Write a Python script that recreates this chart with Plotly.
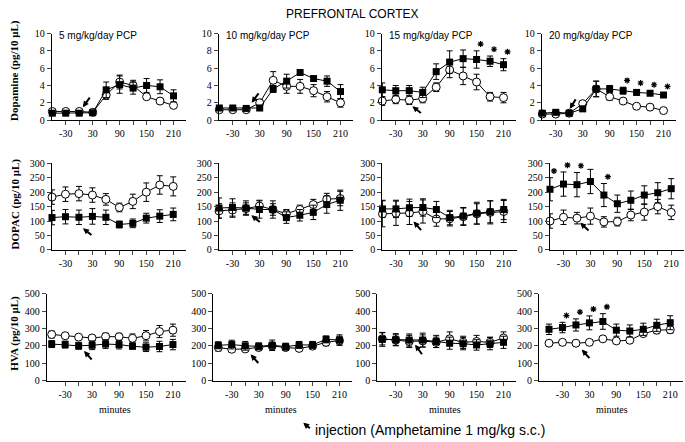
import plotly.graph_objects as go
from plotly.subplots import make_subplots

minutes = [-60, -30, 0, 30, 60, 90, 120, 150, 180, 210]
doses = ["5 mg/kg/day PCP", "10 mg/kg/day PCP", "15 mg/kg/day PCP", "20 mg/kg/day PCP"]

# Dopamine (pg/10 uL): filled squares = PCP, open circles = control ; one row per dose
da_sq = [[0.8, 0.8, 0.8, 0.85, 3.5, 4.1, 3.7, 4.0, 3.85, 2.8],
         [1.4, 1.4, 1.35, 1.4, 3.6, 4.5, 5.5, 4.8, 4.5, 3.3],
         [3.5, 3.4, 3.4, 3.2, 5.6, 6.7, 7.1, 7.0, 6.8, 6.4],
         [0.8, 0.9, 0.8, 1.3, 3.6, 3.6, 3.4, 3.2, 3.1, 2.9]]
da_sq_err = [[0.2, 0.2, 0.2, 0.2, 0.9, 1.0, 0.7, 0.8, 0.8, 0.7],
             [0.2, 0.2, 0.2, 0.3, 0.4, 0.8, 0.2, 0.2, 0.6, 0.8],
             [0.8, 0.6, 0.6, 0.6, 0.9, 1.3, 1.0, 1.0, 0.6, 0.7],
             [0.2, 0.2, 0.2, 0.3, 0.9, 0.4, 0.4, 0.3, 0.2, 0.2]]
da_ci = [[1.0, 1.0, 1.0, 0.9, 2.9, 4.4, 4.0, 2.7, 2.2, 1.7],
         [1.2, 1.2, 1.2, 2.0, 4.6, 3.9, 3.9, 3.4, 2.7, 2.0],
         [2.2, 2.4, 2.3, 2.5, 3.8, 5.8, 5.1, 4.4, 2.7, 2.6],
         [0.7, 0.7, 0.8, 1.9, 3.6, 2.7, 2.2, 1.6, 1.5, 1.1]]
da_ci_err = [[0.2, 0.2, 0.2, 0.2, 0.5, 0.8, 0.6, 0.3, 0.3, 0.2],
             [0.2, 0.2, 0.2, 0.4, 1.0, 0.8, 0.8, 0.7, 0.6, 0.5],
             [0.5, 0.5, 0.5, 0.5, 0.5, 0.9, 1.0, 0.9, 0.5, 0.6],
             [0.2, 0.2, 0.2, 0.3, 0.9, 0.4, 0.2, 0.2, 0.2, 0.2]]

# DOPAC (pg/10 uL)
dopac_sq = [[112, 115, 113, 116, 113, 88, 92, 110, 117, 123],
            [145, 147, 145, 140, 140, 112, 120, 130, 157, 172],
            [142, 142, 146, 147, 140, 112, 117, 127, 132, 140],
            [210, 228, 226, 237, 190, 160, 172, 190, 198, 212]]
dopac_sq_err = [[25, 25, 25, 27, 25, 12, 15, 17, 22, 22],
                [35, 30, 25, 30, 30, 20, 20, 25, 30, 35],
                [30, 30, 30, 30, 28, 25, 30, 38, 38, 35],
                [40, 42, 42, 42, 40, 30, 32, 32, 35, 35]]
dopac_ci = [[183, 193, 195, 190, 175, 147, 168, 200, 225, 220],
            [135, 138, 143, 152, 140, 125, 140, 157, 176, 178],
            [125, 127, 128, 133, 107, 108, 115, 125, 130, 133],
            [100, 113, 110, 117, 97, 98, 121, 131, 150, 130]]
dopac_ci_err = [[25, 25, 25, 25, 20, 15, 25, 32, 32, 33],
                [25, 25, 20, 20, 20, 15, 15, 18, 20, 25],
                [45, 42, 40, 40, 25, 25, 30, 35, 40, 38],
                [25, 25, 20, 28, 18, 15, 20, 28, 25, 25]]

# HVA (pg/10 uL)
hva_sq = [[210, 207, 200, 203, 210, 207, 197, 192, 196, 207],
          [203, 207, 200, 197, 203, 195, 205, 205, 237, 233],
          [237, 235, 233, 233, 225, 215, 212, 205, 212, 220],
          [295, 305, 320, 332, 340, 290, 285, 295, 318, 333]]
hva_sq_err = [[20, 20, 20, 25, 25, 25, 15, 25, 30, 30],
              [20, 25, 25, 20, 30, 20, 20, 20, 20, 30],
              [40, 35, 35, 40, 35, 35, 35, 30, 35, 35],
              [30, 30, 35, 40, 45, 35, 35, 35, 35, 40]]
hva_ci = [[265, 258, 250, 245, 253, 252, 243, 258, 282, 290],
          [190, 180, 182, 190, 200, 190, 185, 198, 220, 230],
          [240, 233, 225, 228, 220, 240, 220, 225, 220, 245],
          [215, 220, 215, 220, 240, 228, 232, 270, 290, 292]]
hva_ci_err = [[20, 15, 15, 15, 20, 20, 25, 30, 35, 35],
              [20, 15, 15, 15, 20, 15, 15, 15, 20, 25],
              [35, 30, 35, 35, 30, 40, 35, 35, 30, 35],
              [15, 15, 15, 15, 15, 15, 15, 15, 20, 20]]

# significant points (index into minutes) per dose
da_stars = [[], [], [7, 8, 9], [6, 7, 8, 9]]
dopac_stars = [[], [], [], [0, 1, 2, 3, 4]]
hva_stars = [[], [], [], [1, 2, 3, 4]]

rows = [
    ("Dopamine (pg/10 μL)", da_sq, da_sq_err, da_ci, da_ci_err, da_stars, 10, 2),
    ("DOPAC (pg/10 μL)", dopac_sq, dopac_sq_err, dopac_ci, dopac_ci_err, dopac_stars, 300, 50),
    ("HVA (pg/10 μL)", hva_sq, hva_sq_err, hva_ci, hva_ci_err, hva_stars, 500, 100),
]

# injection arrows: tip (minutes, value) and tail offset in px
arrows = [
    [(8, 1.5, 8, -11), (12, 2.0, 8, -11), (7, 1.6, 10, 8), (1, 1.3, 7, -11)],
    [(9, 75, 10, 8), (12, 120, 10, 8), (9, 98, 9, 10), (7, 94, 10, 9)],
    [(12, 170, 9, 10), (12, 150, 9, 10), (13, 206, 8, 11), (13, 178, 9, 10)],
]

# panel geometry in pixels
W, H = 685, 442
row_top = [28.3, 161.7, 295.7]
row_bot = [117.3, 250.7, 385]
x_first = [[52.3, 219.3, 382.3, 542.3],
           [52.0, 219.0, 382.5, 550.0],
           [51.7, 218.3, 382.3, 549.0]]
left_pad = [[0.6, 0.6, 0.6, 0.6],
            [0.3, 0.3, 0.3, 0.3],
            [5, 5, 5, 10]]
px_per_min = 0.449
right_ext = 134

fig = make_subplots(rows=3, cols=4)
serif = "Liberation Serif"
sans = "Liberation Sans"
ann = []
arrow_style = dict(showarrow=True, arrowhead=2, arrowsize=0.6, arrowwidth=2,
                   arrowcolor="black", standoff=0, text="")

for r, (ytitle, sq, sqe, ci, cie, stars, ymax, dy) in enumerate(rows):
    per_px = ymax / (row_bot[r] - row_top[r])
    for c in range(4):
        n = r * 4 + c + 1
        xa = "x" if n == 1 else "x%d" % n
        ya = "y" if n == 1 else "y%d" % n
        fig.add_trace(go.Scatter(
            x=minutes, y=ci[c], mode="lines+markers", cliponaxis=False,
            line=dict(color="black", width=1),
            marker=dict(symbol="circle", size=8, color="white", line=dict(color="black", width=1)),
            error_y=dict(type="data", array=cie[c], color="black", thickness=1, width=3),
            showlegend=False, hoverinfo="skip"), row=r + 1, col=c + 1)
        fig.add_trace(go.Scatter(
            x=minutes, y=sq[c], mode="lines+markers", cliponaxis=False,
            line=dict(color="black", width=1),
            marker=dict(symbol="square", size=7, color="black"),
            error_y=dict(type="data", array=sqe[c], color="black", thickness=1, width=3),
            showlegend=False, hoverinfo="skip"), row=r + 1, col=c + 1)

        if stars[c]:
            # asterisks sit just above the upper error bar of the PCP series
            fig.add_trace(go.Scatter(
                x=[minutes[i] + 4 / px_per_min for i in stars[c]],
                y=[sq[c][i] + sqe[c][i] + 7 * per_px for i in stars[c]],
                mode="markers", cliponaxis=False,
                marker=dict(symbol="asterisk-open", size=5, color="black",
                            line=dict(color="black", width=1.2)),
                showlegend=False, hoverinfo="skip"), row=r + 1, col=c + 1)

        x0 = x_first[r][c]
        left = x0 - left_pad[r][c]
        right = x0 + right_ext
        lo = -60 - left_pad[r][c] / px_per_min
        hi = -60 + right_ext / px_per_min
        tv = list(range(-30, 211, 30))
        tt = [str(v) if v in (-30, 30, 90, 150, 210) else "" for v in tv]
        fig.update_xaxes(domain=[left / W, right / W], range=[lo, hi],
                         tickvals=tv, ticktext=tt, ticks="outside", ticklen=4,
                         showline=True, linecolor="black", linewidth=1,
                         showgrid=False, zeroline=False,
                         tickfont=dict(family=serif, size=10, color="black"),
                         row=r + 1, col=c + 1)
        fig.update_yaxes(domain=[1 - row_bot[r] / H, 1 - row_top[r] / H], range=[0, ymax],
                         tickvals=list(range(0, ymax + 1, dy)), ticks="outside", ticklen=4,
                         showline=True, linecolor="black", linewidth=1,
                         showgrid=False, zeroline=False,
                         tickfont=dict(family=serif, size=10, color="black"),
                         row=r + 1, col=c + 1)

        tx, ty, dx, dyp = arrows[r][c]
        ann.append(dict(x=tx, y=ty, xref=xa, yref=ya, ax=dx, ay=dyp, **arrow_style))

        if r == 0:
            ann.append(dict(x=(x0 + 4.5) / W, y=1 - 30.5 / H, xref="paper", yref="paper",
                            text=doses[c], showarrow=False, xanchor="left", yanchor="middle",
                            font=dict(family=sans, size=10, color="black")))
        if r == 2:
            ann.append(dict(x=(x0 + 63) / W, y=1 - 415 / H, xref="paper", yref="paper",
                            text="minutes", showarrow=False, xanchor="center", yanchor="middle",
                            font=dict(family=serif, size=10, color="black")))

    ycen = [66.7, 204, 337][r]
    ann.append(dict(x=15 / W, y=1 - ycen / H, xref="paper", yref="paper",
                    text="<b>%s</b>" % ytitle, textangle=-90, showarrow=False,
                    xanchor="center", yanchor="middle",
                    font=dict(family=serif, size=11, color="black")))

ann.append(dict(x=351.7 / W, y=1 - 8.3 / H, xref="paper", yref="paper",
                text="PREFRONTAL CORTEX", showarrow=False, xanchor="center", yanchor="middle",
                font=dict(family=sans, size=12, color="black")))
ann.append(dict(x=303.3 / W, y=1 - 428.3 / H, xref="paper", yref="paper",
                ax=8, ay=7, **arrow_style))
ann.append(dict(x=313.3 / W, y=1 - 436 / H, xref="paper", yref="paper",
                text="injection (Amphetamine 1 mg/kg s.c.)", showarrow=False,
                xanchor="left", yanchor="middle",
                font=dict(family=sans, size=14, color="black")))

fig.update_layout(width=W, height=H, margin=dict(l=0, r=0, t=0, b=0),
                  plot_bgcolor="white", paper_bgcolor="white", annotations=ann)
fig.write_html("out.html", config={"displayModeBar": False},
               post_script="document.body.style.margin='0px';")
